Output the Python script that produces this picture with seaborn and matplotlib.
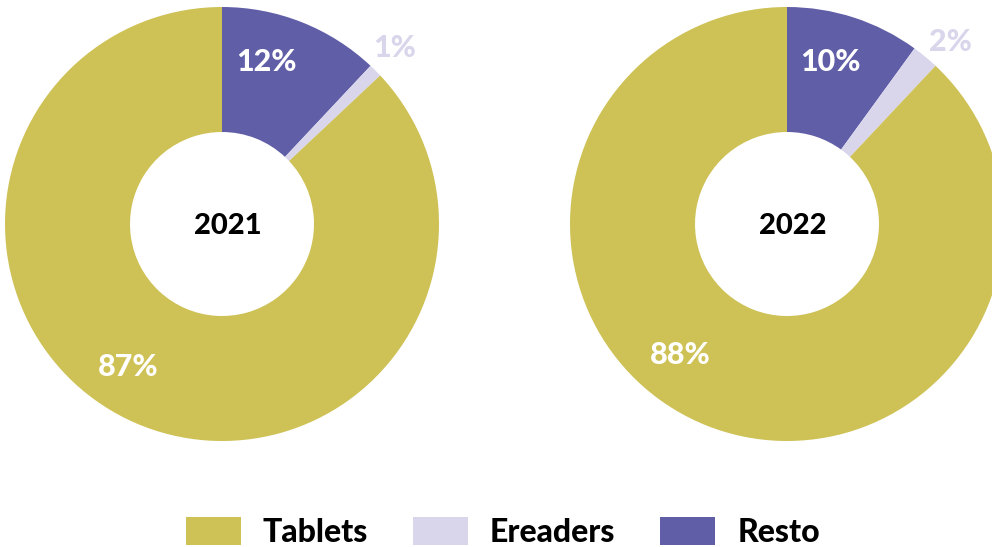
import matplotlib.pyplot as plt
import seaborn as sns
from matplotlib.patches import Patch

# data
years = ["2021", "2022"]
categories = ["Resto", "Ereaders", "Tablets"]   # clockwise from 12 o'clock
shares_2021 = [12, 1, 87]
shares_2022 = [10, 2, 88]
legend_order = ["Tablets", "Ereaders", "Resto"]

colors = {"Tablets": "#CEC155", "Ereaders": "#D9D6EC", "Resto": "#615EA8"}
label_colors = {"Tablets": "white", "Ereaders": "#D9D6EC", "Resto": "white"}

sns.set_theme(style="white")
plt.rcParams["font.family"] = ["Lato", "DejaVu Sans"]

W, H = 992, 547
fig = plt.figure(figsize=(W / 100, H / 100), dpi=100)
ax = fig.add_axes([0, 0, 1, 1])

R_OUT, R_IN = 217, 92
centers = [(222, H - 224), (787, H - 224)]
# label offsets (px from donut centre) for each category
label_pos = [
    {"Resto": (44, 162), "Ereaders": (173, 176), "Tablets": (-94, -143)},
    {"Resto": (43, 162), "Ereaders": (163, 182), "Tablets": (-107, -131)},
]

for year, vals, (cx, cy), lp in zip(years, [shares_2021, shares_2022], centers, label_pos):
    ax.pie(vals, colors=[colors[c] for c in categories], startangle=90,
           counterclock=False, radius=R_OUT, center=(cx, cy),
           wedgeprops=dict(width=R_OUT - R_IN, linewidth=0), frame=True)
    for cat, v in zip(categories, vals):
        dx, dy = lp[cat]
        ax.text(cx + dx, cy + dy, f"{v}%", ha="center", va="center",
                fontsize=22, fontweight="black", color=label_colors[cat])
    ax.text(cx + 6, cy - 2, year, ha="center", va="center", fontsize=21,
            fontweight="black", color="black")

ax.set_xlim(0, W)
ax.set_ylim(0, H)
ax.set_aspect("equal")
ax.axis("off")

handles = [Patch(facecolor=colors[c], edgecolor="none", label=c) for c in legend_order]
fig.legend(handles=handles, loc="center", bbox_to_anchor=(0.507, 0.028), ncol=3,
           frameon=False, prop={"weight": "black", "size": 23}, labelcolor="black",
           handlelength=1.72, handleheight=1.0, handletextpad=0.69,
           columnspacing=1.4)

fig.savefig("out.png", dpi=100, facecolor="white")
